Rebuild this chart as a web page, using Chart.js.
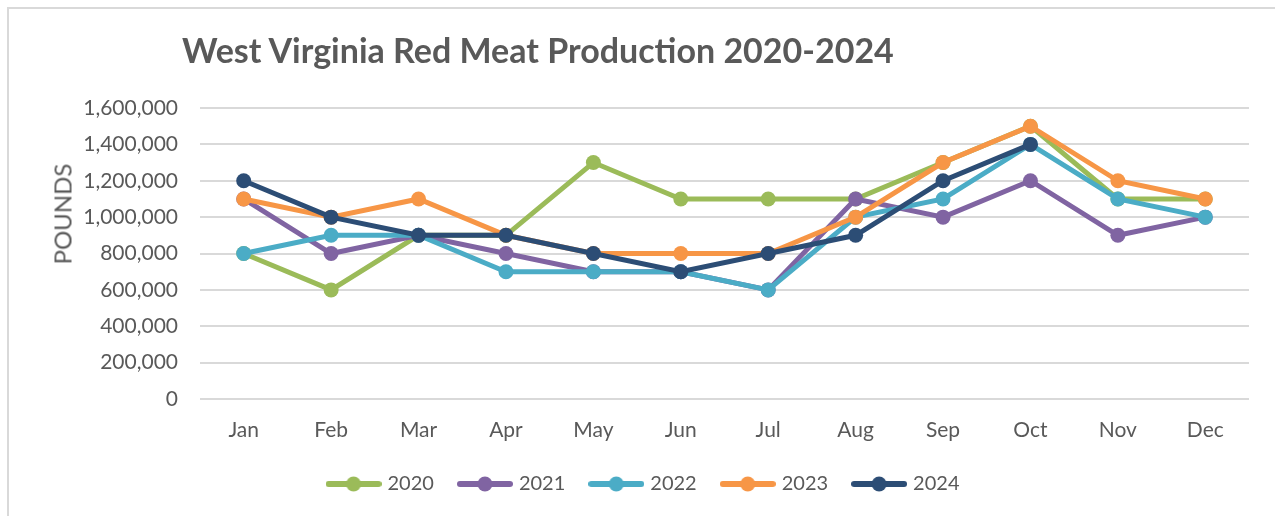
<!DOCTYPE html>
<html lang="en">
<head>
<meta charset="UTF-8">
<title>West Virginia Red Meat Production</title>
<style>
  body { margin: 0; background: #fff; font-family: Lato, "Open Sans", sans-serif; }
  #wrap { position: relative; width: 1275px; height: 516px; overflow: hidden; }
  #frame { position: absolute; left: 7px; top: 7px; width: 1400px; height: 600px;
           border-left: 2px solid #d9d9d9; border-top: 2px solid #d9d9d9; }
  #title { position: absolute; left: 182px; top: 29px; margin: 0; line-height: 1.2;
           font: bold 34px Lato, "Open Sans", sans-serif; color: #595959; white-space: nowrap; }
  #ytitle { position: absolute; left: 62px; top: 214px; margin: 0; line-height: 1;
            font: 24px Lato, "Open Sans", sans-serif; color: #595959; white-space: nowrap;
            transform: translate(-50%, -50%) rotate(-90deg); }
  canvas { position: absolute; left: 0; top: 0; }
</style>
</head>
<body>
<div id="wrap">
  <div id="frame"></div>
  <canvas id="myChart" width="1275" height="516"></canvas>
  <h1 id="title">West Virginia Red Meat Production 2020-2024</h1>
  <div id="ytitle">POUNDS</div>
</div>
<script src="https://cdn.jsdelivr.net/npm/chart.js"></script>
<script>
const months = ['Jan','Feb','Mar','Apr','May','Jun','Jul','Aug','Sep','Oct','Nov','Dec']
const years = ['2020','2021','2022','2023','2024']
const colors = ['#9bbb59','#8064a2','#4bacc6','#f79646','#2c4d75']

const y2020 = [800000, 600000, 900000, 900000, 1300000, 1100000, 1100000, 1100000, 1300000, 1500000, 1100000, 1100000]
const y2021 = [1100000, 800000, 900000, 800000, 700000, 700000, 600000, 1100000, 1000000, 1200000, 900000, 1000000]
const y2022 = [800000, 900000, 900000, 700000, 700000, 700000, 600000, 1000000, 1100000, 1400000, 1100000, 1000000]
const y2023 = [1100000, 1000000, 1100000, 900000, 800000, 800000, 800000, 1000000, 1300000, 1500000, 1200000, 1100000]
const y2024 = [1200000, 1000000, 900000, 900000, 800000, 700000, 800000, 900000, 1200000, 1400000, null, null]
const series = [y2020, y2021, y2022, y2023, y2024]

const textColor = '#595959'
const font = 'Lato, "Open Sans", sans-serif'

// legend swatch: short line with a dot on it
function swatch(color) {
    const c = document.createElement('canvas')
    c.width = 56; c.height = 16
    const g = c.getContext('2d')
    g.strokeStyle = color; g.lineWidth = 6; g.lineCap = 'round'
    g.beginPath(); g.moveTo(3, 8); g.lineTo(53, 8); g.stroke()
    g.fillStyle = color
    g.beginPath(); g.arc(28, 8, 7.5, 0, Math.PI * 2); g.fill()
    return c
}
const swatches = colors.map(swatch)

const datasets = years.map((y, i) => ({
    label: y,
    data: series[i],
    borderColor: colors[i],
    backgroundColor: colors[i],
    borderWidth: 5,
    pointRadius: 7.5,
    pointHoverRadius: 7.5,
    pointBorderWidth: 0,
    order: years.length - i,
    tension: 0
}))

const ctx = document.getElementById('myChart')
const myChart = new Chart(ctx, {
    type: 'line',
    data: { labels: months, datasets: datasets },
    options: {
        responsive: false,
        animation: false,
        layout: { padding: { left: 40, right: 26, top: 108, bottom: 12 } },
        plugins: {
            title: { display: false },
            tooltip: { enabled: false },
            legend: {
                position: 'bottom',
                labels: {
                    usePointStyle: true,
                    pointStyleWidth: 48,
                    boxHeight: 16,
                    padding: 27,
                    color: textColor,
                    font: { family: font, size: 20 },
                    generateLabels: (chart) => chart.data.datasets.map((d, i) => ({
                        text: d.label,
                        datasetIndex: i,
                        fillStyle: colors[i],
                        strokeStyle: colors[i],
                        lineWidth: 0,
                        pointStyle: swatches[i],
                        fontColor: textColor,
                        hidden: false
                    }))
                }
            }
        },
        scales: {
            x: {
                offset: true,
                grid: { display: false },
                border: { display: false },
                ticks: { color: textColor, padding: 11, font: { family: font, size: 21 } },
                afterFit: (s) => { s.height = 48 }
            },
            y: {
                min: 0,
                max: 1600000,
                ticks: {
                    stepSize: 200000,
                    color: textColor,
                    padding: 22,
                    font: { family: font, size: 21 },
                    callback: (v) => v.toLocaleString('en-US')
                },
                grid: { color: '#d9d9d9', lineWidth: 2, drawTicks: false },
                border: { display: false },
                afterFit: (s) => { s.width = 160 }
            }
        }
    }
})
</script>
</body>
</html>
